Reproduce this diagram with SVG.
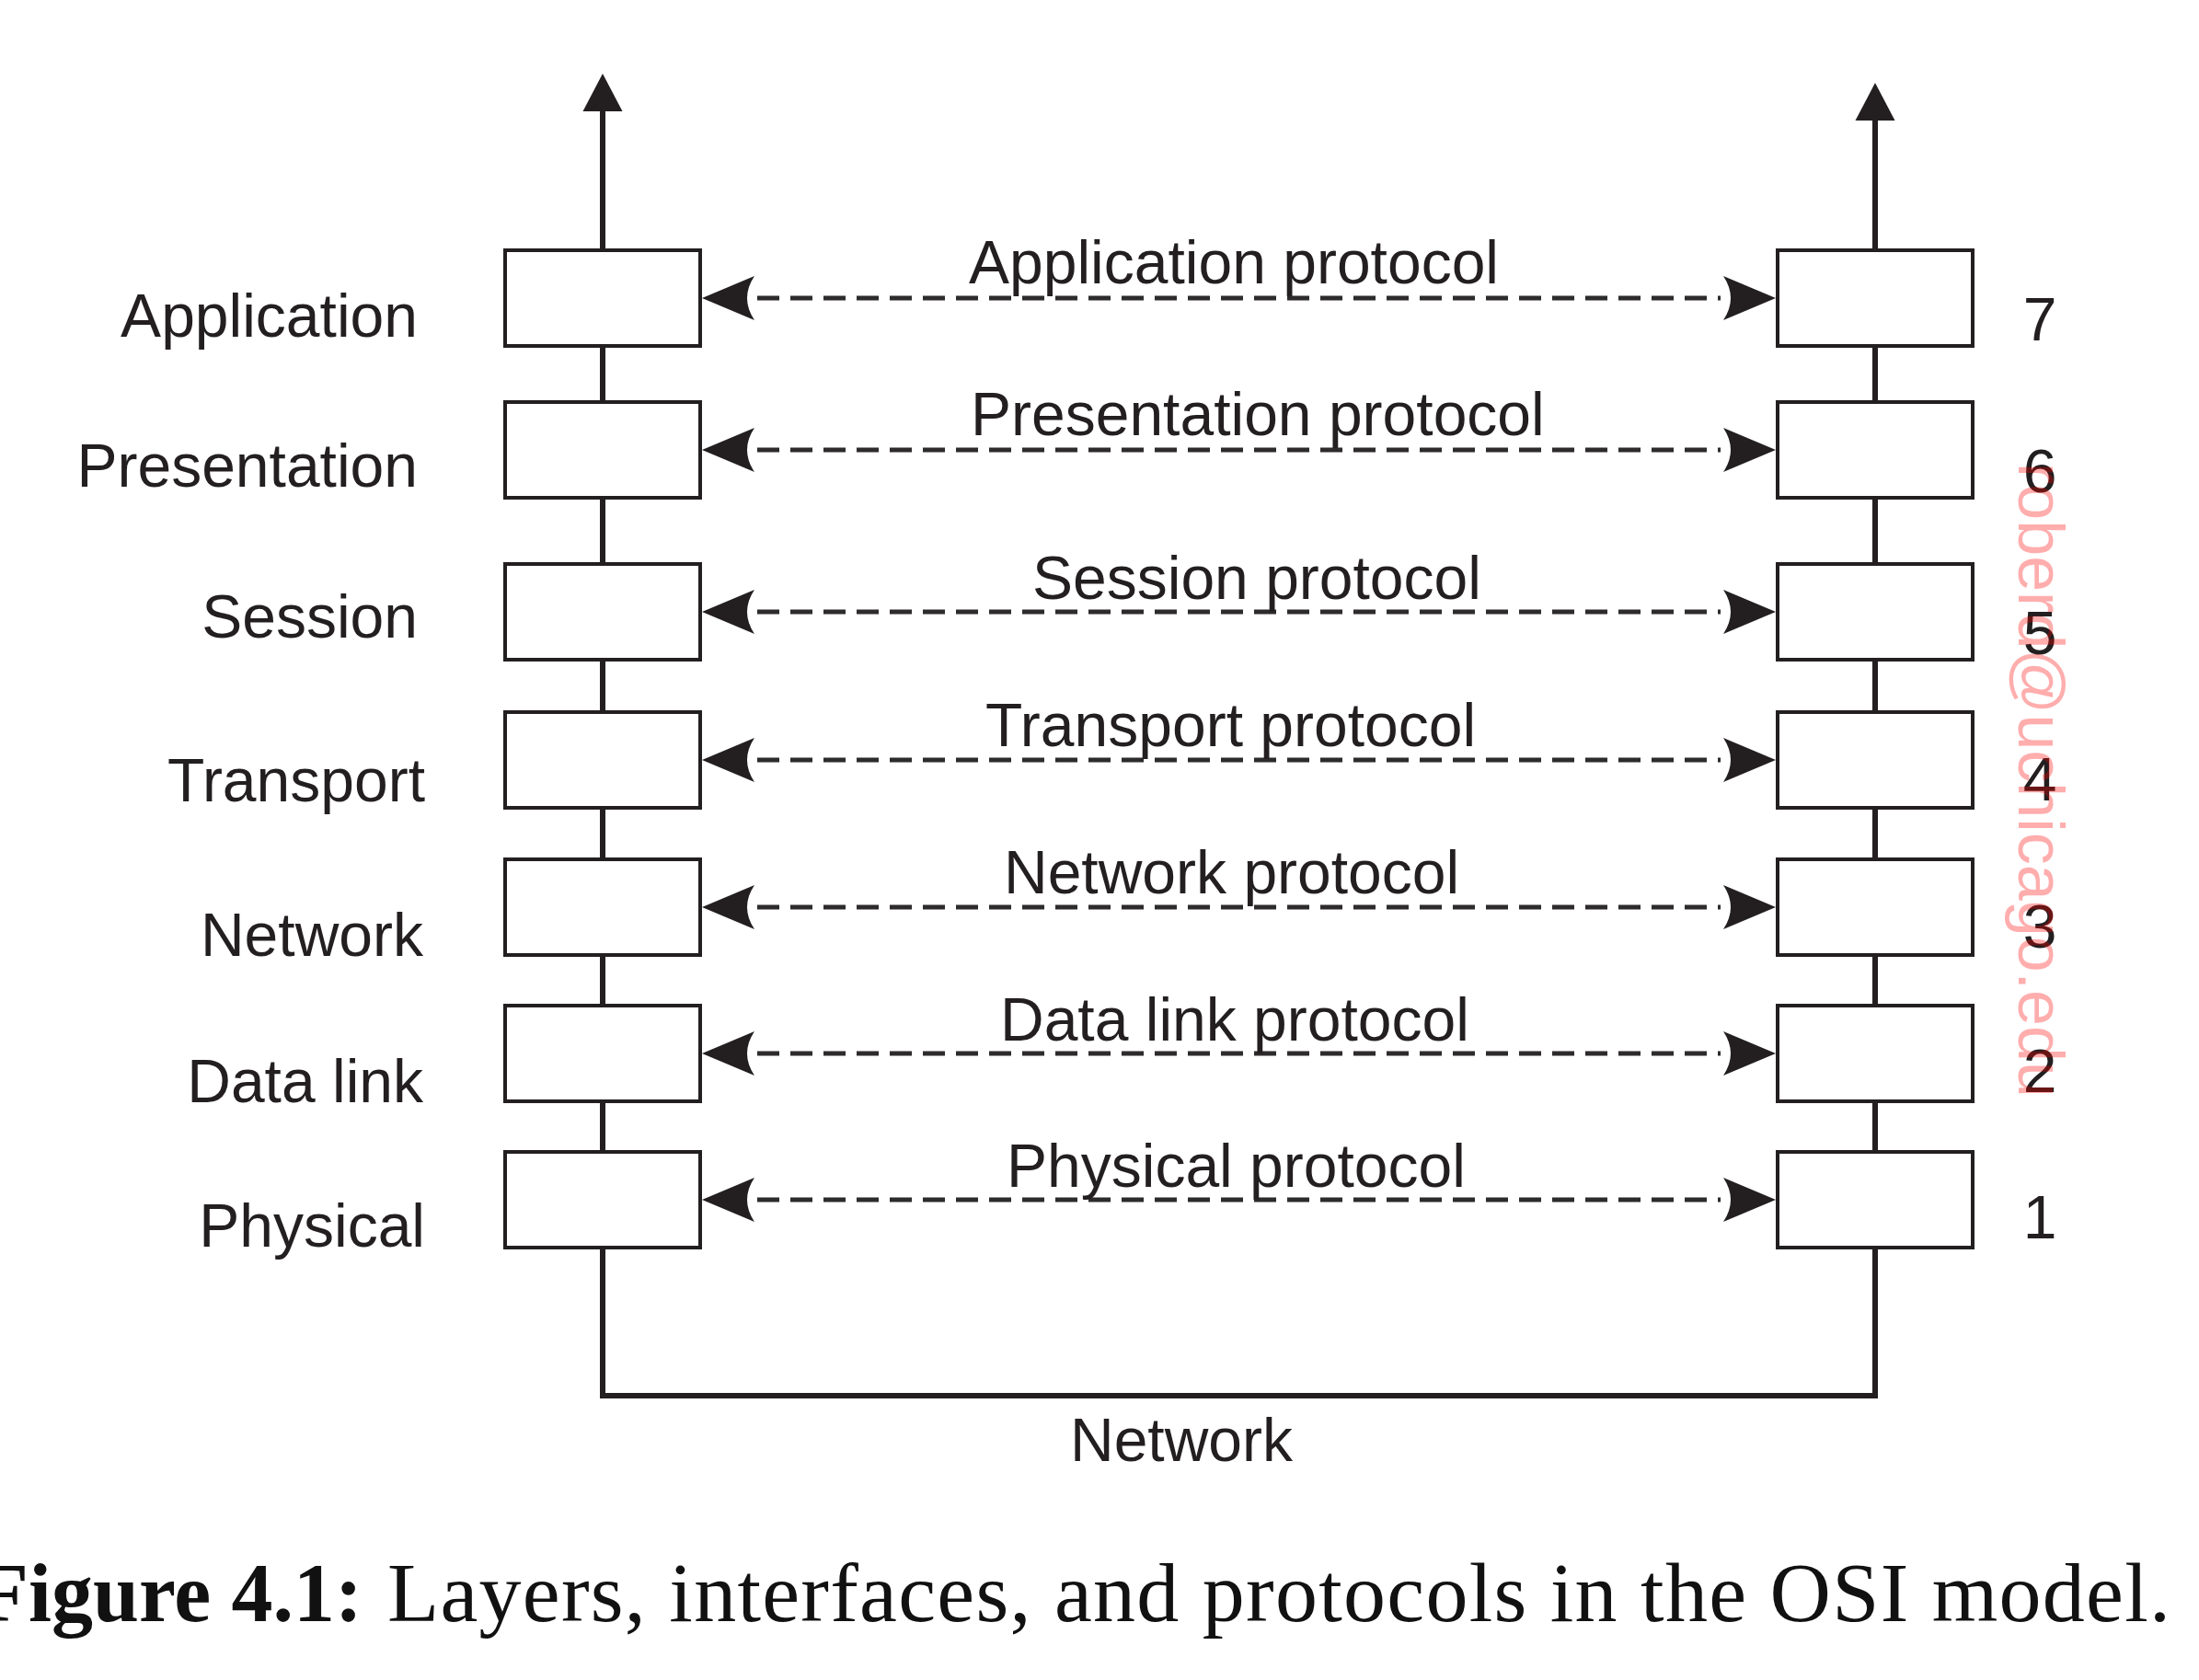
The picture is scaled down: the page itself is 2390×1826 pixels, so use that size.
<svg xmlns="http://www.w3.org/2000/svg" width="2390" height="1826" viewBox="0 0 2390 1826">
<style>
.box{fill:#fff;stroke:#231f20;stroke-width:4}
.lbl{font-family:"Liberation Sans",Arial,Helvetica,sans-serif;font-size:66px;fill:#231f20}
.end{text-anchor:end}
.mid{text-anchor:middle}
.dash{fill:none;stroke:#2d2b2c;stroke-width:5;stroke-dasharray:24 12;marker-start:url(#ah);marker-end:url(#ah)}
.stack{fill:none;stroke:#231f20;stroke-width:6}
.cap{font-family:"Liberation Serif","Times New Roman",serif;font-size:92px;fill:#111}
</style>
<defs>
<marker id="ah" viewBox="0 0 57 48" refX="-3" refY="24" markerWidth="57" markerHeight="48" markerUnits="userSpaceOnUse" orient="auto-start-reverse">
<path d="M0,0 L57,24 L0,48 Q16,24 0,0 Z" fill="#231f20"/>
</marker>
</defs>
<rect width="2390" height="1826" fill="#fff"/>
<g id="connectors">
<path class="stack" d="M655,119 V1517 H2038 V129"/>
<path d="M655,80 L633.5,121 L676.5,121 Z" fill="#231f20"/>
<path d="M2038,90 L2016.5,131 L2059.5,131 Z" fill="#231f20"/>
<path class="dash" d="M823,324 H1870"/>
<path class="dash" d="M823,489 H1870"/>
<path class="dash" d="M823,665 H1870"/>
<path class="dash" d="M823,826 H1870"/>
<path class="dash" d="M823,986 H1870"/>
<path class="dash" d="M823,1145 H1870"/>
<path class="dash" d="M823,1304 H1870"/>
<text class="lbl" x="1053" y="308">Application protocol</text>
<text class="lbl" x="1055" y="473">Presentation protocol</text>
<text class="lbl" x="1122" y="651">Session protocol</text>
<text class="lbl" x="1071" y="811">Transport protocol</text>
<text class="lbl" x="1091" y="971">Network protocol</text>
<text class="lbl" x="1087" y="1131">Data link protocol</text>
<text class="lbl" x="1094" y="1290">Physical protocol</text>
</g>
<g id="left-application"><rect class="box" x="549" y="272" width="212" height="104"/><text class="lbl end" x="454" y="366">Application</text></g>
<g id="left-presentation"><rect class="box" x="549" y="437" width="212" height="104"/><text class="lbl end" x="454" y="529">Presentation</text></g>
<g id="left-session"><rect class="box" x="549" y="613" width="212" height="104"/><text class="lbl end" x="454" y="693">Session</text></g>
<g id="left-transport"><rect class="box" x="549" y="774" width="212" height="104"/><text class="lbl end" x="462" y="871">Transport</text></g>
<g id="left-network"><rect class="box" x="549" y="934" width="212" height="104"/><text class="lbl end" x="460" y="1039">Network</text></g>
<g id="left-datalink"><rect class="box" x="549" y="1093" width="212" height="104"/><text class="lbl end" x="460" y="1198">Data link</text></g>
<g id="left-physical"><rect class="box" x="549" y="1252" width="212" height="104"/><text class="lbl end" x="462" y="1355">Physical</text></g>
<g id="right-7"><rect class="box" x="1932" y="272" width="212" height="104"/><text class="lbl mid" x="2217" y="370">7</text></g>
<g id="right-6"><rect class="box" x="1932" y="437" width="212" height="104"/><text class="lbl mid" x="2217" y="535">6</text></g>
<g id="right-5"><rect class="box" x="1932" y="613" width="212" height="104"/><text class="lbl mid" x="2217" y="711">5</text></g>
<g id="right-4"><rect class="box" x="1932" y="774" width="212" height="104"/><text class="lbl mid" x="2217" y="870">4</text></g>
<g id="right-3"><rect class="box" x="1932" y="934" width="212" height="104"/><text class="lbl mid" x="2217" y="1030">3</text></g>
<g id="right-2"><rect class="box" x="1932" y="1093" width="212" height="104"/><text class="lbl mid" x="2217" y="1187">2</text></g>
<g id="right-1"><rect class="box" x="1932" y="1252" width="212" height="104"/><text class="lbl mid" x="2217" y="1346">1</text></g>
<g id="network-label"><text class="lbl" x="1163" y="1588">Network</text></g>
<g id="caption">
<text class="cap" x="-24" y="1762" font-weight="bold" textLength="418" lengthAdjust="spacingAndGlyphs">Figure 4.1:</text>
<text class="cap" x="421" y="1762" textLength="1938" lengthAdjust="spacing">Layers, interfaces, and protocols in the OSI model.</text>
</g>
<g id="watermark"><text transform="translate(2194,503) rotate(90)" style="font-family:'Liberation Sans',Arial,sans-serif;font-size:70px" fill="#ff0000" fill-opacity="0.32">roberd@uchicago.edu</text></g>
</svg>
